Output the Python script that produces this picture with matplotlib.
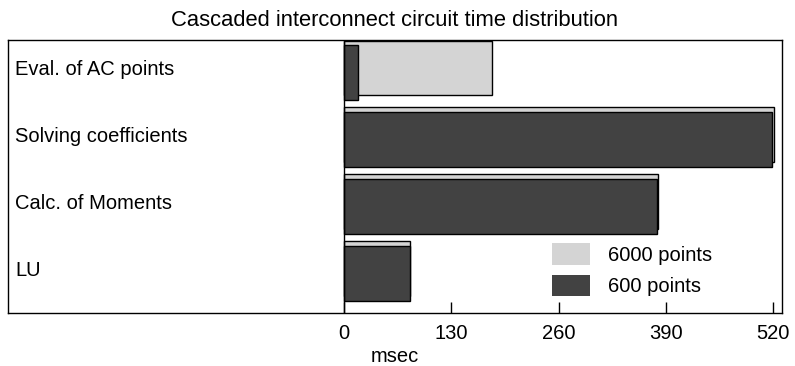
import numpy as np
import matplotlib
matplotlib.use("Agg")
import matplotlib.pyplot as plt
from matplotlib.patches import Patch

plt.rcParams['font.family'] = ['Liberation Sans', 'DejaVu Sans']

# data (msec)
tasks = ['Eval. of AC points', 'Solving coefficients', 'Calc. of Moments', 'LU']
pts_6000 = [179, 521, 381, 80]
pts_600 = [17, 519, 379, 80]
xticks = [0, 130, 260, 390, 520]

light = '#d4d4d4'
dark = '#424242'
fs = 14.5

fig = plt.figure(figsize=(7.95, 3.66), dpi=100)
ax = fig.add_axes([0.0101, 0.1448, 0.9735, 0.7472])

ypos = np.arange(len(tasks))
bh = 0.82
off = 0.035

ax.barh(ypos - off, pts_6000, height=bh, color=light, edgecolor='black', linewidth=1.0)
ax.barh(ypos + off, pts_600, height=bh, color=dark, edgecolor='black', linewidth=1.0)

ax.set_xlim(-408, 531)
ax.set_ylim(3.63, -0.46)
ax.axvline(0, color='black', linewidth=1.0)

for y, name in zip(ypos, tasks):
    ax.text(0.009, y - 0.01, name, transform=ax.get_yaxis_transform(),
            ha='left', va='center', fontsize=fs)

ax.set_xticks(xticks)
ax.set_xticklabels([str(t) for t in xticks])
ax.set_yticks([])
ax.tick_params(axis='x', direction='in', length=8, width=1, labelsize=fs, pad=8)
for s in ax.spines.values():
    s.set_linewidth(1.0)

ax.set_xlabel('msec', fontsize=fs, labelpad=3)
ax.set_title('Cascaded interconnect circuit time distribution', fontsize=15.8, pad=10)

handles = [Patch(facecolor=light, edgecolor='none', label='6000 points'),
           Patch(facecolor=dark, edgecolor='none', label='600 points')]
ax.legend(handles=handles, loc='upper left', bbox_to_anchor=(0.703, 0.255),
          frameon=False, fontsize=fs, handlelength=1.9, handleheight=1.25,
          handletextpad=0.9, labelspacing=0.5, borderpad=0, borderaxespad=0)

fig.savefig('out.png', dpi=100)
